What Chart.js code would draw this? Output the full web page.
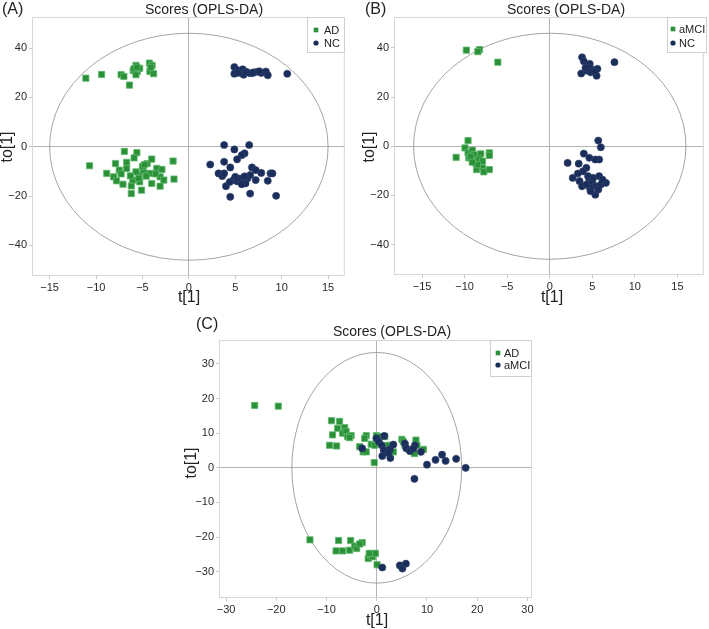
<!DOCTYPE html>
<html>
<head>
<meta charset="utf-8">
<script src="https://cdn.jsdelivr.net/npm/chart.js@4.4.0/dist/chart.umd.min.js"></script>
<style>
  body { margin: 0; background: #fff; width: 709px; height: 629px; position: relative; overflow: hidden; }
  canvas { position: absolute; }
</style>
</head>
<body>
<canvas id="chartC" width="360" height="329" style="left:180px;top:300px"></canvas>
<canvas id="chartA" width="350" height="310" style="left:0;top:0"></canvas>
<canvas id="chartB" width="354" height="310" style="left:355px;top:0"></canvas>
<script>
// ---- data: [t[1], to[1]] ----
const A_AD = [
  [-11.1,27.8],[-9.4,29.3],[-7.3,29.2],[-7.0,28.5],[-6.4,25.0],[-6.0,30.9],[-5.7,33.0],[-5.55,30.5],
  [-5.7,29.2],[-5.3,31.8],[-5.9,31.6],[-4.25,33.9],[-3.96,33.0],[-4.2,30.5],[-3.8,29.6],[-4.1,32.2],[-5.6,32.2],
  [-10.7,-7.7],[-6.95,-1.9],[-5.6,-2.4],[-5.9,-4.5],[-7.9,-6.8],[-6.7,-6.3],[-6.7,-8.8],[-7.5,-9.5],
  [-8.85,-10.8],[-8.1,-12.2],[-7.8,-13.8],[-7.1,-15.2],[-6.2,-15.9],[-6.2,-19.0],[-5.1,-17.6],[-6.05,-13.5],
  [-5.3,-14.2],[-5.3,-11.1],[-4.9,-9.5],[-4.5,-6.8],[-4.0,-5.0],[-4.2,-10.8],[-4.0,-14.9],[-3.45,-8.8],
  [-3.1,-12.2],[-2.9,-9.2],[-2.7,-13.5],[-3.1,-16.0],[-1.7,-5.8],[-1.6,-13.1],[-5.0,-8.0],[-4.6,-11.9],
  [-5.7,-10.2],[-6.3,-11.8],[-3.6,-11.0],[-4.8,-7.3],[-7.3,-11.0],[-5.4,-12.8]
];
const A_NC = [
  [4.9,32.3],[4.9,29.6],[5.3,31.0],[5.6,30.2],[5.8,31.4],[5.9,29.2],[6.2,30.4],[6.6,29.8],[7.0,30.2],
  [7.4,30.4],[7.8,29.9],[8.3,30.5],[8.5,29.0],[6.9,29.9],[7.6,30.6],[5.3,29.9],[10.6,29.6],
  [3.8,0.7],[6.5,0.7],[4.9,-1.1],[6.0,-2.7],[5.7,-3.4],[5.2,-5.1],[2.3,-7.2],[3.8,-6.1],[4.46,-8.4],
  [3.2,-10.8],[3.6,-11.9],[3.8,-10.8],[4.0,-16.0],[4.46,-20.3],[4.8,-13.5],[5.2,-14.0],[5.5,-12.9],
  [5.9,-14.2],[6.3,-12.9],[6.8,-8.4],[7.2,-9.5],[6.6,-11.5],[7.2,-13.5],[7.8,-10.6],[8.8,-10.8],
  [9.0,-10.8],[8.5,-13.8],[6.6,-19.0],[9.4,-19.9],[6.1,-14.9],[5.7,-15.2],[4.4,-14.3],[5.0,-12.2],[6.0,-12.0]
];
const B_aMCI = [
  [-9.8,39.1],[-8.26,39.3],[-8.45,38.5],[-6.1,34.2],
  [-9.6,2.3],[-9.96,-0.7],[-11.0,-4.5],[-9.6,-2.7],[-9.1,-1.6],[-9.5,-4.7],[-9.1,-5.2],[-8.5,-4.1],
  [-8.1,-3.1],[-8.7,-6.8],[-8.3,-8.1],[-7.9,-8.8],[-7.75,-10.4],[-8.6,-9.5],[-7.1,-2.7],[-7.1,-3.7],
  [-7.1,-9.5],[-8.9,-3.4],[-9.3,-4.1],[-8.3,-5.2],[-7.9,-6.1],[-8.5,-7.5],[-9.1,-6.5]
];
const B_NC = [
  [3.8,36.2],[4.0,34.6],[4.7,33.5],[7.6,34.2],[3.7,29.6],[4.3,30.8],[5.0,31.2],[5.6,31.5],[5.5,28.7],
  [4.65,31.9],[4.2,31.9],[4.8,30.1],[5.3,30.5],
  [5.7,2.3],[6.0,-0.4],[4.0,-3.0],[4.65,-4.7],[5.8,-5.4],[5.35,-5.4],[2.1,-6.8],[3.4,-7.1],[4.3,-8.8],
  [3.9,-10.2],[3.3,-11.1],[2.7,-12.9],[3.5,-14.2],[3.8,-16.3],[4.65,-13.6],[5.0,-14.6],[5.4,-16.3],
  [5.35,-19.7],[5.8,-12.2],[6.0,-15.6],[6.6,-14.9],[4.7,-16.9],[4.3,-15.6],[6.2,-13.6],[5.7,-17.6],
  [4.5,-12.2],[5.1,-12.9],[4.8,-18.3]
];
const C_AD = [
  [-24.3,18.0],[-19.6,17.8],[-9.0,13.6],[-7.4,13.4],[-8.8,9.5],[-7.8,11.4],[-6.4,11.6],[-6.8,10.0],
  [-6.1,10.5],[-5.8,9.0],[-5.1,9.3],[-5.4,8.7],[-9.4,6.5],[-8.0,6.3],[-3.4,6.1],[-2.7,4.6],[-2.1,4.6],
  [-2.1,9.3],[-2.4,8.5],[-1.1,6.8],[-0.4,6.5],[-0.07,9.3],[0.3,7.5],[-0.5,1.5],[2.3,6.5],[3.3,4.6],
  [5.0,8.2],[5.3,7.5],[7.8,8.0],[7.5,4.1],[9.3,5.3],[8.0,6.5],[5.6,6.5],[1.6,9.0],[0.6,9.0],
  [-13.3,-20.8],[-7.6,-21.0],[-5.2,-21.0],[-8.1,-24.0],[-6.8,-24.0],[-5.4,-23.8],[-4.4,-22.6],
  [-4.0,-23.3],[-2.9,-21.6],[-3.4,-22.0],[-1.7,-26.2],[-1.3,-25.2],[-0.87,-25.7],[-0.27,-24.7],
  [0.07,-28.0],[-1.5,-24.7]
];
const C_aMCI = [
  [-2.9,5.6],[-0.07,8.5],[0.4,7.5],[1.5,9.2],[1.0,6.5],[1.1,3.4],[1.4,5.1],[2.6,5.3],[2.7,2.8],
  [3.3,6.7],[2.3,4.3],[5.6,7.0],[5.9,5.6],[6.6,4.8],[7.6,6.5],[7.3,5.6],[8.8,4.6],[7.5,-3.2],
  [10.0,0.9],[11.7,2.3],[13.0,3.8],[13.7,2.0],[15.8,2.6],[17.7,0.0],
  [1.1,-28.8],[4.6,-28.2],[5.1,-29.1],[5.8,-27.7]
];

// tick labels
const ticksAB_x = [-15, -10, -5, 0, 5, 10, 15];
const ticksAB_y = [-40, -20, 0, 20, 40];
const ticksC = [-30, -20, -10, 0, 10, 20, 30];

const GREEN = '#2a9139';
const NAVY = '#1b2d5b';
const FONT = '"Liberation Sans", Arial, Helvetica, sans-serif';

const fmt = v => (v < 0 ? '\u2212' + Math.abs(v) : String(v));

const decor = {
  id: 'decor',
  beforeDatasetsDraw(chart, args, o) {
    const { ctx, chartArea: a, scales: { x, y } } = chart;
    ctx.save();
    // T2 ellipse
    const cx = x.getPixelForValue(0), cy = y.getPixelForValue(0);
    ctx.strokeStyle = '#9a9a9a';
    ctx.lineWidth = 0.9;
    ctx.beginPath();
    ctx.ellipse(cx, cy, Math.abs(x.getPixelForValue(o.ell[0]) - cx), Math.abs(y.getPixelForValue(o.ell[1]) - cy), 0, 0, Math.PI * 2);
    ctx.stroke();
    // frame
    ctx.strokeStyle = '#d6d6d6';
    ctx.lineWidth = 1;
    ctx.strokeRect(a.left + 0.5, a.top + 0.5, a.right - a.left - 1, a.bottom - a.top - 1);
    ctx.restore();
  },
  afterDraw(chart, args, o) {
    const { ctx } = chart;
    ctx.save();
    ctx.fillStyle = '#222';
    ctx.textBaseline = 'middle';
    ctx.font = '16px ' + FONT;
    ctx.textAlign = 'left';
    ctx.fillText(o.label, o.labelPos[0], o.labelPos[1]);
    ctx.font = '14px ' + FONT;
    ctx.textAlign = 'center';
    ctx.fillText('Scores (OPLS-DA)', o.titlePos[0], o.titlePos[1]);
    ctx.font = '16px ' + FONT;
    ctx.fillText('t[1]', o.xTitle[0], o.xTitle[1]);
    ctx.save();
    ctx.translate(o.yTitle[0], o.yTitle[1]);
    ctx.rotate(-Math.PI / 2);
    ctx.fillText('to[1]', 0, 0);
    ctx.restore();
    // legend
    const lg = o.legend;
    ctx.fillStyle = '#fff';
    ctx.fillRect(lg.box[0], lg.box[1], lg.box[2], lg.box[3]);
    ctx.strokeStyle = '#cfcfcf';
    ctx.strokeRect(lg.box[0] + 0.5, lg.box[1] + 0.5, lg.box[2] - 1, lg.box[3] - 1);
    ctx.font = '11px ' + FONT;
    ctx.textAlign = 'left';
    chart.data.datasets.forEach((ds, i) => {
      const ry = lg.rows[i];
      ctx.fillStyle = ds.backgroundColor;
      if (ds.pointStyle === 'rect') {
        ctx.fillRect(lg.mx - 2.3, ry - 2.3, 4.6, 4.6);
      } else {
        ctx.beginPath();
        ctx.arc(lg.mx, ry, 2.6, 0, Math.PI * 2);
        ctx.fill();
      }
      ctx.fillStyle = '#222';
      ctx.fillText(ds.label, lg.tx, ry + 0.5);
    });
    ctx.restore();
  }
};

function scaleOpts(min, max, ticks, size, isX) {
  return {
    type: 'linear',
    min: min,
    max: max,
    afterBuildTicks: s => { s.ticks = ticks.map(v => ({ value: v })); },
    afterFit: s => { if (isX) s.height = size; else s.width = size; },
    grid: {
      color: c => (c.tick && c.tick.value === 0 ? '#b4b4b4' : 'rgba(0,0,0,0)'),
      tickColor: '#c8c8c8',
      tickLength: 3,
      lineWidth: 1
    },
    border: { display: false },
    ticks: {
      autoSkip: false,
      maxRotation: 0,
      padding: 2,
      color: '#2a2a2a',
      font: { size: 11, family: FONT },
      callback: v => fmt(v)
    }
  };
}

function makeChart(id, p) {
  new Chart(document.getElementById(id), {
    type: 'scatter',
    data: {
      datasets: [
        {
          label: p.names[0], data: p.sets[0].map(d => ({ x: d[0], y: d[1] })),
          pointStyle: 'rect', pointRadius: 4.4, backgroundColor: GREEN,
          borderColor: '#5fb86b', borderWidth: 0.8, order: 2
        },
        {
          label: p.names[1], data: p.sets[1].map(d => ({ x: d[0], y: d[1] })),
          pointStyle: 'circle', pointRadius: 3.6, backgroundColor: NAVY,
          borderColor: '#33476f', borderWidth: 0.6, order: 1
        }
      ]
    },
    options: {
      responsive: false,
      animation: false,
      devicePixelRatio: 1,
      layout: { padding: p.pad },
      scales: {
        x: scaleOpts(p.xr[0], p.xr[1], p.xt, 20, true),
        y: scaleOpts(p.yr[0], p.yr[1], p.yt, p.yw, false)
      },
      plugins: {
        legend: { display: false },
        tooltip: { enabled: false },
        decor: p.decor
      }
    },
    plugins: [decor]
  });
}

makeChart('chartA', {
  names: ['AD', 'NC'], sets: [A_AD, A_NC],
  xr: [-16.9, 16.8], yr: [-52.4, 52.6], xt: ticksAB_x, yt: ticksAB_y, yw: 32,
  pad: { left: 0, right: 5, top: 17, bottom: 14 },
  decor: {
    ell: [15, 46], label: '(A)', labelPos: [2, 10], titlePos: [204, 10],
    xTitle: [189, 298], yTitle: [8, 147],
    legend: { box: [307, 17, 38, 36], mx: 316, tx: 324, rows: [30, 43] }
  }
});

makeChart('chartB', {
  names: ['aMCI', 'NC'], sets: [B_aMCI, B_NC],
  xr: [-18.3, 18.1], yr: [-52.4, 52.6], xt: ticksAB_x, yt: ticksAB_y, yw: 39,
  pad: { left: 0, right: 2, top: 17, bottom: 15 },
  decor: {
    ell: [16, 46], label: '(B)', labelPos: [10, 10], titlePos: [211, 10],
    xTitle: [197, 298], yTitle: [15, 147],
    legend: { box: [312, 17, 40, 36], mx: 318, tx: 324, rows: [29, 43] }
  }
});

makeChart('chartC', {
  names: ['AD', 'aMCI'], sets: [C_AD, C_aMCI],
  xr: [-31.4, 30.9], yr: [-37.6, 36.9], xt: ticksC, yt: ticksC, yw: 39,
  pad: { left: 0, right: 8, top: 40, bottom: 11 },
  decor: {
    ell: [16.9, 33.3], label: '(C)', labelPos: [16, 25], titlePos: [212, 32],
    xTitle: [197, 321], yTitle: [12, 163],
    legend: { box: [310, 40, 42, 37], mx: 318, tx: 324, rows: [53, 65] }
  }
});
</script>
</body>
</html>
